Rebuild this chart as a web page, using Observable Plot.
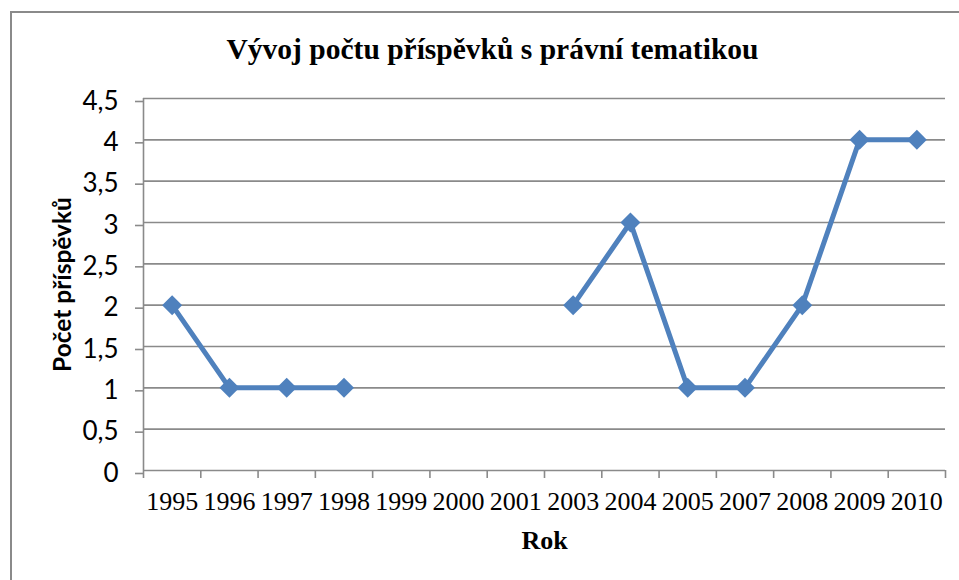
<!DOCTYPE html>
<html>
<head>
<meta charset="utf-8">
<script src="https://cdn.jsdelivr.net/npm/d3@7"></script>
<script src="https://cdn.jsdelivr.net/npm/@observablehq/plot@0.6"></script>
<style>
  html, body { margin: 0; padding: 0; background: #fff; }
  #wrap { position: relative; width: 959px; height: 580px; overflow: hidden; }
  #border { position: absolute; left: 10px; top: 11px; width: 2000px; height: 2000px;
            border-top: 2px solid #8a8a8a; border-left: 2px solid #8a8a8a; box-sizing: border-box; }
  #wrap svg { position: absolute; left: 0; top: 0; }
</style>
</head>
<body>
<div id="wrap"><div id="border"></div></div>
<script>
const title = "Vývoj počtu příspěvků s právní tematikou";
const xTitle = "Rok";
const yTitle = "Počet příspěvků";
const years = ["1995","1996","1997","1998","1999","2000","2001","2003","2004","2005","2007","2008","2009","2010"];
const counts = [2, 1, 1, 1, null, null, null, 2, 3, 1, 1, 2, 4, 4];
const yTicks = [0, 0.5, 1, 1.5, 2, 2.5, 3, 3.5, 4, 4.5];

const data = years.map((year, i) => ({year, i, value: counts[i]}));
const present = data.filter(d => d.value != null);

const gray = "#8a8a8a";
const blue = "#4F81BD";
const serif = "'Liberation Serif', 'Times New Roman', serif";
const sans = "Lato, 'Liberation Sans', sans-serif";

const chart = Plot.plot({
  width: 959,
  height: 580,
  marginLeft: 143,
  marginRight: 14,
  marginTop: 98,
  marginBottom: 110,
  style: {background: "transparent", fontFamily: sans},
  x: {type: "linear", domain: [0, years.length]},
  y: {domain: [0, 4.5]},
  marks: [
    Plot.gridY(yTicks, {stroke: gray, strokeOpacity: 1, strokeWidth: 1.6}),
    Plot.axisY(yTicks, {
      tickSize: 8, tickPadding: 17, stroke: gray, strokeWidth: 1.6, fill: "black",
      tickFormat: d => String(d).replace(".", ","), fontSize: 26, fontFamily: sans,
      label: null, dy: 3
    }),
    Plot.ruleX([0], {stroke: gray, strokeWidth: 1.6}),
    Plot.axisX(d3.range(0, years.length + 1), {
      tickSize: 8, stroke: gray, strokeWidth: 1.6, tickFormat: () => "", label: null
    }),
    Plot.axisX(d3.range(years.length).map(i => i + 0.5), {
      tickSize: 0, tickPadding: 21, fill: "black",
      tickFormat: v => years[Math.floor(v)], fontSize: 26, fontFamily: serif, label: null
    }),
    Plot.line(data, {x: d => d.i + 0.5, y: "value", stroke: blue, strokeWidth: 5, strokeLinejoin: "round"}),
    Plot.dot(present, {x: d => d.i + 0.5, y: "value", symbol: "diamond2", r: 9, fill: blue, stroke: "none"}),
    Plot.text([title], {frameAnchor: "top", dx: -52, dy: -40, lineAnchor: "bottom",
      fontSize: 29.5, fontWeight: "bold", fontFamily: serif, fill: "black"}),
    Plot.text([xTitle], {frameAnchor: "bottom", dy: 78, lineAnchor: "bottom",
      fontSize: 26, fontWeight: "bold", fontFamily: serif, fill: "black"}),
    Plot.text([yTitle], {frameAnchor: "left", textAnchor: "middle", dx: -80, rotate: -90, lineAnchor: "middle",
      fontSize: 24.5, fontWeight: "bold", fontFamily: sans, fill: "black"})
  ]
});
document.getElementById("wrap").appendChild(chart);
</script>
</body>
</html>
